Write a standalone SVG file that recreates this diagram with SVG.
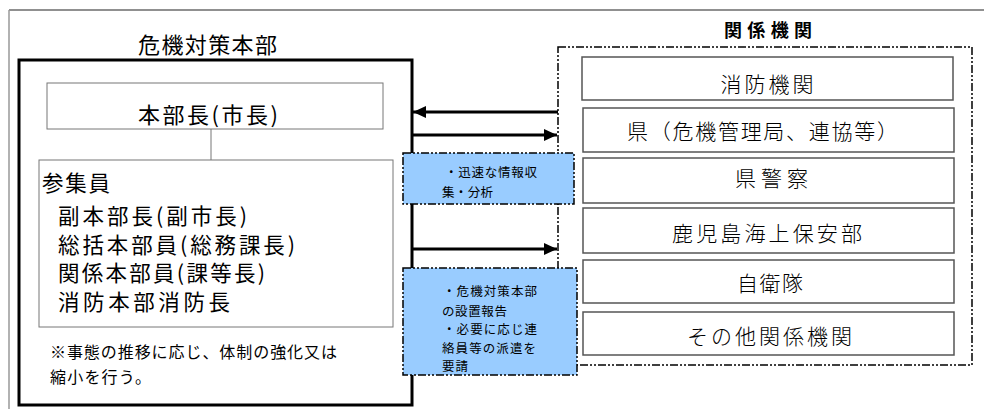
<svg xmlns="http://www.w3.org/2000/svg" width="984" height="409" viewBox="0 0 984 409">
<defs>
<style>
.jp{font-family:"Noto Sans CJK JP","Noto Sans",sans-serif;fill:#000}
.mincho{font-family:"Noto Sans CJK JP","Noto Sans",sans-serif;font-weight:300;fill:#000;font-size:21px}
.inner{fill:#fff;stroke:#777;stroke-width:1}
.org{fill:#fff;stroke:#555;stroke-width:1.5}
.dd{fill:none;stroke:#000;stroke-width:1.5;stroke-dasharray:8 2 2 2 2 2}
.blue{fill:#99CCFF;stroke:#000;stroke-width:1.5;stroke-dasharray:8 2 2 2 2 2}
.arr{stroke:#000;stroke-width:3;fill:none}
.bt{font-size:12.5px}
.st{font-size:21.5px}
</style>
<marker id="ah" markerUnits="userSpaceOnUse" markerWidth="14" markerHeight="12" refX="13" refY="6" orient="auto">
<path d="M0,0 L13,6 L0,12 Z" fill="#000"/>
</marker>
</defs>
<rect width="984" height="409" fill="#fff"/>
<g id="frame">
<line x1="9" y1="10" x2="984" y2="10" stroke="#222" stroke-width="1.2"/>
<line x1="9" y1="10" x2="9" y2="409" stroke="#999" stroke-width="1.5"/>
</g>
<g id="hq">
<text class="jp" x="207.5" y="53" font-size="22" text-anchor="middle" textLength="139" lengthAdjust="spacing">危機対策本部</text>
<rect x="19" y="60" width="393" height="345" fill="#fff" stroke="#000" stroke-width="3"/>
</g>
<g id="chief">
<rect class="inner" x="47" y="83" width="336" height="46"/>
<text class="jp" x="208" y="123" font-size="22" text-anchor="middle" textLength="140" lengthAdjust="spacing">本部長(市長)</text>
</g>
<g id="staff">
<rect class="inner" x="39" y="160" width="354" height="167"/>
<text class="jp st" x="42" y="191" textLength="68" lengthAdjust="spacing">参集員</text>
<text class="jp st" x="58" y="224" textLength="189" lengthAdjust="spacing">副本部長(副市長)</text>
<text class="jp st" x="58" y="253" textLength="237" lengthAdjust="spacing">総括本部員(総務課長)</text>
<text class="jp st" x="58" y="281" textLength="207" lengthAdjust="spacing">関係本部員(課等長)</text>
<text class="jp st" x="58" y="310" textLength="172" lengthAdjust="spacing">消防本部消防長</text>
</g>
<g id="note">
<text class="jp" x="50" y="358" font-size="16" textLength="287" lengthAdjust="spacing">※事態の推移に応じ、体制の強化又は</text>
<text class="jp" x="50" y="383" font-size="16" textLength="101" lengthAdjust="spacing">縮小を行う。</text>
</g>
<g id="agencies">
<text class="jp" x="768" y="37" font-size="18" font-weight="bold" text-anchor="middle" textLength="88" lengthAdjust="spacing">関係機関</text>
<rect class="dd" x="558" y="47" width="414" height="318"/>
</g>
<g id="fire">
<rect class="org" x="582" y="57" width="371" height="43"/>
<text class="mincho" x="767" y="92" text-anchor="middle" textLength="93" lengthAdjust="spacing">消防機関</text>
</g>
<g id="pref">
<rect class="org" x="583" y="108" width="371" height="44"/>
<text class="mincho" x="762.5" y="139" text-anchor="middle" textLength="271" lengthAdjust="spacing">県（危機管理局、連協等）</text>
</g>
<g id="police">
<rect class="org" x="583" y="158" width="371" height="45"/>
<text class="mincho" x="771.5" y="186" text-anchor="middle" textLength="73" lengthAdjust="spacing">県警察</text>
</g>
<g id="coastguard">
<rect class="org" x="583" y="208" width="371" height="45"/>
<text class="mincho" x="767" y="241" text-anchor="middle" textLength="190" lengthAdjust="spacing">鹿児島海上保安部</text>
</g>
<g id="sdf">
<rect class="org" x="583" y="260" width="371" height="43"/>
<text class="mincho" x="770" y="291" text-anchor="middle" textLength="66" lengthAdjust="spacing">自衛隊</text>
</g>
<g id="others">
<rect class="org" x="583" y="312" width="371" height="43"/>
<text class="mincho" x="769.5" y="344" text-anchor="middle" textLength="165" lengthAdjust="spacing">その他関係機関</text>
</g>
<g id="connectors">
<line x1="211" y1="129" x2="211" y2="160" stroke="#777" stroke-width="1"/>
<line class="arr" x1="558" y1="112" x2="413" y2="112" marker-end="url(#ah)"/>
<line class="arr" x1="412" y1="135" x2="557" y2="135" marker-end="url(#ah)"/>
<line class="arr" x1="412" y1="249" x2="557" y2="249" marker-end="url(#ah)"/>
</g>
<g id="note-info">
<rect class="blue" x="403" y="153" width="171" height="51"/>
<text class="jp bt" x="445" y="177" textLength="92" lengthAdjust="spacing">・迅速な情報収</text>
<text class="jp bt" x="442" y="197" textLength="51" lengthAdjust="spacing">集・分析</text>
</g>
<g id="note-report">
<rect class="blue" x="403" y="268" width="174" height="107"/>
<text class="jp bt" x="443" y="296" textLength="94" lengthAdjust="spacing">・危機対策本部</text>
<text class="jp bt" x="442" y="316" textLength="65" lengthAdjust="spacing">の設置報告</text>
<text class="jp bt" x="443" y="334" textLength="94" lengthAdjust="spacing">・必要に応じ連</text>
<text class="jp bt" x="442" y="353" textLength="94" lengthAdjust="spacing">絡員等の派遣を</text>
<text class="jp bt" x="442" y="371" textLength="26" lengthAdjust="spacing">要請</text>
</g>
</svg>
